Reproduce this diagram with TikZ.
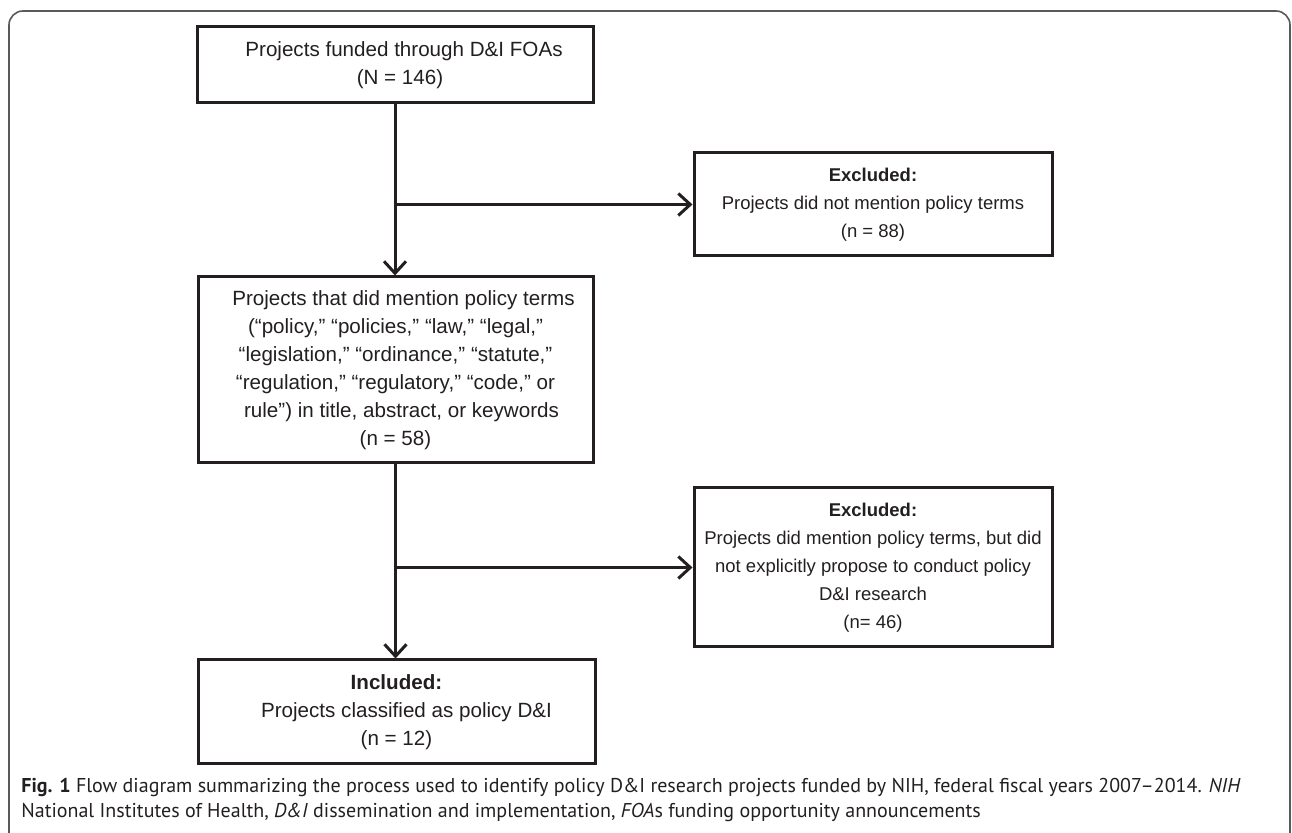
\documentclass[tikz,border=0pt]{standalone}
\usepackage{fontspec}
\setmainfont{Liberation Sans}
\newfontfamily\capfont{PT Sans}
\usetikzlibrary{arrows.meta}
\definecolor{ink}{HTML}{231F20}
\tikzset{
    flowbox/.style={draw=ink, line width=1.5pt, text=ink, align=center, inner sep=0pt,
        font=\fontsize{10.3}{14}\selectfont},
    sidebox/.style={flowbox, font=\fontsize{9.25}{14}\selectfont},
    flowarrow/.style={draw=ink, line width=1.5pt, -{Straight Barb[length=6pt, width=11pt, line width=1.5pt]}},
    captext/.style={anchor=west, inner sep=0pt, text=ink, font=\capfont\fontsize{10}{12.5}\selectfont},
}
\begin{document}
\begin{tikzpicture}[x=0.5pt, y=-0.5pt]
        \useasboundingbox (0, 0) rectangle (1292, 833);
        % frame
        \draw[gray!70!black, line width=0.8pt, rounded corners=7pt] (9, 840) -- (9, 11) -- (1290, 11) -- (1290, 840);
        % boxes
        \node[flowbox, minimum width=198pt, minimum height=38pt] (fund) at (395, 65)
            {\hspace*{9pt}Projects funded through D\&I FOAs\\\hspace*{5pt}(N = 146)};
        \node[sidebox, minimum width=179pt, minimum height=51.5pt] (excl1) at (873, 204.5)
            {\textbf{Excluded:}\\Projects did not mention policy terms\\(n = 88)};
        \node[flowbox, minimum width=197.5pt, minimum height=93pt] (mention) at (395.5, 370)
            {\hspace*{8pt}Projects that did mention policy terms\\(“policy,” “policies,” “law,” “legal,”\\“legislation,” “ordinance,” “statute,”\\“regulation,” “regulatory,” “code,” or\\\hspace*{6pt}rule”) in title, abstract, or keywords\\(n = 58)};
        \node[sidebox, minimum width=179pt, minimum height=79.5pt] (excl2) at (873, 567.5)
            {\textbf{Excluded:}\\Projects did mention policy terms, but did\\not explicitly propose to conduct policy\\D\&I research\\(n= 46)};
        \node[flowbox, minimum width=198.5pt, minimum height=52pt] (incl) at (396.5, 712)
            {\textbf{Included:}\\\hspace*{10pt}Projects classified as policy D\&I\\(n = 12)};
        % connectors
        \coordinate (split1) at (fund.south |- excl1.west);
        \coordinate (split2) at (mention.south |- excl2.west);
        \draw[flowarrow] (fund.south) -- (fund.south |- mention.north);
        \draw[flowarrow] (split1) -- (excl1.west);
        \draw[flowarrow] (mention.south) -- (mention.south |- incl.north);
        \draw[flowarrow] (split2) -- (excl2.west);
        % caption
        \node[captext] (cap1) at (21, 788)
            {\textbf{Fig. 1} Flow diagram summarizing the process used to identify policy D\&I research projects funded by NIH, federal fiscal years 2007–2014. \textit{NIH}};
        \node[captext] (cap2) at (21, 813)
            {National Institutes of Health, \textit{D\&I} dissemination and implementation, \textit{FOA}s funding opportunity announcements};
    \end{tikzpicture}
\end{document}
